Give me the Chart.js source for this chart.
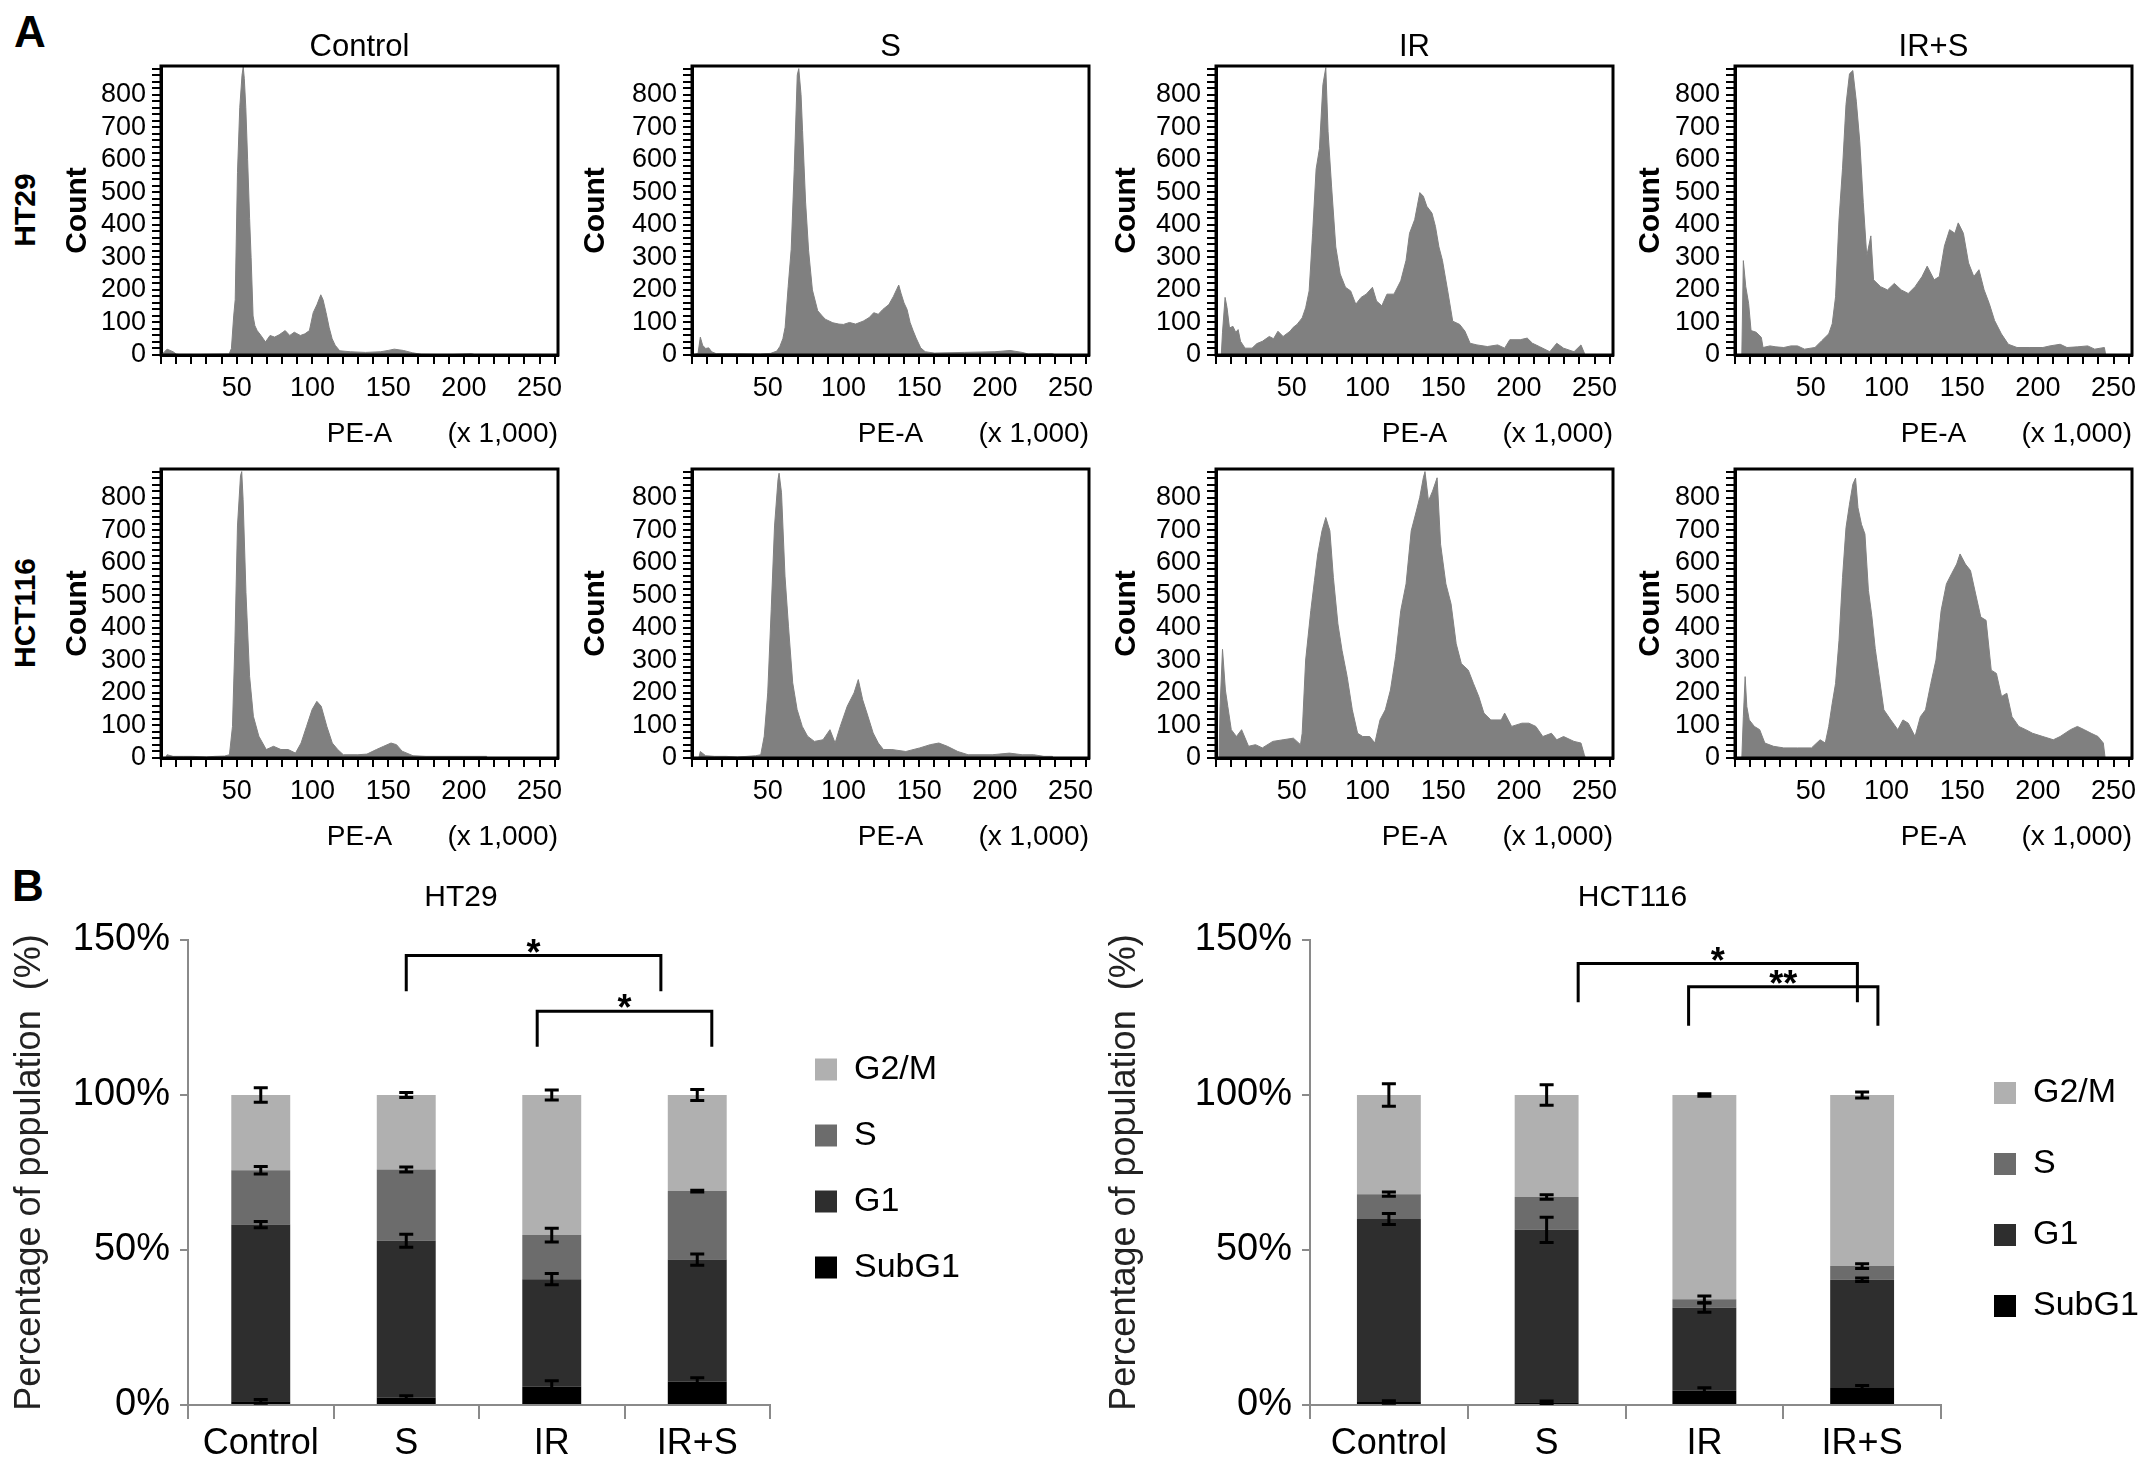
<!DOCTYPE html>
<html><head><meta charset="utf-8">
<script src="https://cdn.jsdelivr.net/npm/chart.js@4.4.1/dist/chart.umd.min.js"></script>
<style>
html,body{margin:0;padding:0;background:#fff;}
#fig{position:relative;width:2150px;height:1465px;overflow:hidden;background:#fff;}
canvas{position:absolute;}
.lbl{position:absolute;font-family:'Liberation Sans',Arial,sans-serif;color:#000;white-space:nowrap;line-height:1;}
.rot{transform:translate(-50%,-50%) rotate(-90deg);font-weight:bold;font-size:30px;}
</style></head><body><div id="fig">
<div class="lbl" style="left:14px;top:10px;font-size:44px;font-weight:bold;">A</div>
<div class="lbl" style="left:12px;top:864px;font-size:44px;font-weight:bold;">B</div>
<div class="lbl rot" style="left:25px;top:210px;">HT29</div>
<div class="lbl rot" style="left:25px;top:613px;">HCT116</div>
</div>
<script>
// ---------------- DATA ----------------
const TREATMENTS = ['Control', 'S', 'IR', 'IR+S'];
const PHASES = ['SubG1', 'G1', 'S', 'G2/M'];
const HIST_X_LABELS = [50, 100, 150, 200, 250];
const HIST_Y_LABELS = [0, 100, 200, 300, 400, 500, 600, 700, 800];
const PCT_TICKS = [0, 50, 100, 150];

// Histograms: [PE-A (x1,000), count]
const HT29_CONTROL = [[0,0],[2,8],[4,18],[6,14],[8,10],[10,3],[14,0],[30,2],[45,3],[46.5,20],[48,120],[49,170],[50.5,560],[52,760],[53.5,860],[54.3,885],[55,850],[56,760],[57.2,600],[58.5,420],[59.5,300],[60.8,120],[62,90],[63.5,75],[66,60],[69,40],[72,60],[75,55],[78,62],[82,75],[85,60],[88,70],[92,60],[95,65],[98,75],[100.5,130],[103,155],[105.5,185],[107,170],[109,130],[111,85],[113,50],[115,30],[118,13],[125,10],[135,8],[145,10],[150,14],[154,18],[160,14],[166,7],[172,2],[190,1],[205,4],[208,0],[262,0]];
const HT29_S = [[0,0],[4,5],[5.5,55],[7,30],[9,20],[11,22],[13,10],[16,4],[30,4],[45,3],[52,5],[56,12],[58,26],[60,50],[61.5,85],[63.5,210],[65.5,325],[67.5,570],[69.5,860],[70.5,880],[72,800],[73,690],[75,470],[77,320],[79.5,200],[83,136],[86,120],[88,110],[93,99],[97,95],[100,94],[104,100],[108,95],[113,104],[117,115],[120,130],[123,125],[126,140],[130,155],[133,180],[135,200],[136.5,215],[138,190],[140,160],[142,140],[144,100],[146,75],[148,52],[151,22],[154,10],[160,6],[180,8],[200,10],[210,14],[218,8],[222,3],[238,4],[240,0],[262,0]];
const HT29_IR = [[0,0],[3.5,0],[4.3,70],[6,177],[7.3,145],[8.9,83],[11.2,88],[13,70],[14.6,78],[16.2,42],[19.2,21],[23.8,21],[27,35],[30.6,42],[35.2,57],[38,50],[40.9,73],[44.3,57],[48.9,73],[51,85],[53.5,94],[56.9,114],[59.2,145],[61.5,197],[63.8,374],[66.1,571],[68.3,634],[70.6,831],[72.5,883],[74,686],[76.3,519],[79.1,332],[82,249],[85.5,208],[88.9,197],[92.3,156],[95.8,177],[99.2,187],[103.3,208],[106,166],[109.5,151],[112.9,187],[117.5,187],[122,228],[125.5,291],[127.8,374],[131.2,416],[134.6,499],[136.9,488],[139.2,457],[142.6,436],[144.9,395],[147.2,332],[149.5,291],[153,197],[156.3,104],[160.9,94],[164.4,73],[167.8,36],[172.3,31],[179.2,26],[186,31],[190.6,21],[194,47],[200.9,47],[205.5,52],[209,36],[213.5,26],[220.4,10],[225,36],[229.5,21],[236.4,10],[241,31],[243.3,5],[244,0],[262,0]];
const HT29_IRS = [[0,0],[4.5,0],[5.5,290],[7.1,210],[9,158],[10.6,75],[14,70],[17.4,54],[18.5,23],[23.1,28],[27,25],[32.2,23],[37,28],[41.3,28],[45.9,18],[52.8,23],[57.3,44],[61.9,65],[64.2,96],[66.4,179],[68.7,418],[71,574],[73.3,770],[75.6,864],[77.8,874],[80.1,780],[82.4,655],[84.7,468],[87,304],[89.7,366],[91.5,231],[96.1,210],[100.7,200],[105.2,220],[109.8,200],[114.4,189],[118.9,210],[123.5,241],[126.9,273],[131.5,231],[134.9,241],[138.3,335],[141.7,385],[145.2,374],[147.4,406],[150.8,374],[154.2,283],[157.7,241],[161.1,262],[164.5,200],[167.9,158],[171.4,106],[175.9,65],[180.5,33],[186.2,23],[194.2,23],[203.3,23],[208,28],[214.7,33],[219.2,23],[226,25],[232.9,28],[237.5,18],[243.9,23],[244.8,0],[262,0]];
const HCT116_CONTROL = [[0,0],[3,0],[4,10],[8,5],[15,5],[21,5],[30,3],[35.5,5],[42,6],[45.2,10],[47.2,97],[48.8,354],[50.5,713],[52.5,867],[53.3,880],[54.2,795],[56.1,508],[58.5,251],[61,128],[64.6,67],[69.5,26],[74.3,36],[79.2,26],[84,26],[88.8,15],[92.5,46],[96.1,97],[99.8,149],[102.9,174],[105.8,159],[109.5,97],[113.1,46],[116.7,26],[120.4,10],[130,10],[136,12],[142.2,26],[147,36],[151.9,46],[155.5,41],[159.2,21],[166.4,7],[175,5],[188.2,5],[200,5],[214.9,5],[216,0],[262,0]];
const HCT116_S = [[0,0],[4.5,0],[5.5,20],[9,7],[15,5],[22.6,5],[30,3],[36.3,5],[42,7],[45.4,10],[47.7,67],[50,200],[52.3,456],[54.5,713],[56.8,856],[57.5,875],[59.1,815],[61.4,559],[63.7,405],[66.5,231],[69.4,149],[72.8,97],[76.3,67],[80.8,51],[86.5,56],[91.1,87],[94.5,46],[97.9,97],[102.5,159],[107,200],[109.8,241],[112.7,179],[116.2,128],[119.6,77],[123,46],[126.4,26],[132,26],[141.2,20],[150.4,31],[157.3,41],[163,46],[168.6,36],[175.5,20],[182.3,10],[198.2,10],[209.6,15],[218,10],[225.6,10],[232.4,5],[238,5],[239,0],[262,0]];
const HCT116_IR = [[0,0],[2,0],[2.7,158],[4.3,334],[6.2,209],[7.8,158],[10.1,87],[13.5,66],[16.9,87],[21.5,36],[26.1,41],[30.6,31],[37.5,51],[44.3,56],[51.1,61],[55.8,41],[56.9,76],[59.2,301],[62.6,453],[65,545],[67.2,627],[70,698],[72.5,739],[75.2,698],[77.5,555],[80.5,412],[83.2,331],[86.6,250],[90,148],[93.5,76],[96.9,66],[101.5,66],[104.9,46],[108.3,117],[111.8,148],[115.2,209],[118.6,311],[122,453],[125.5,535],[128.9,698],[132.3,759],[134.5,800],[136.9,861],[138,880],[140.3,790],[143,820],[146,861],[148.3,657],[151.8,535],[155.2,474],[158.6,351],[162,290],[166.6,270],[170,229],[173.5,189],[176.9,138],[181.5,117],[188.3,117],[190.6,138],[195.2,97],[202,107],[206.6,107],[211.2,97],[215.8,66],[221.5,76],[225,56],[229.5,66],[236.4,51],[241,46],[243.2,10],[244,0],[262,0]];
const HCT116_IRS = [[0,0],[4.5,0],[5.5,127],[6.7,250],[7.8,158],[9.4,117],[12.8,97],[16.3,87],[19.7,46],[25.4,36],[32.2,31],[41.3,31],[50.5,31],[56.2,56],[59.6,46],[61.9,97],[64.2,168],[66.4,229],[68.7,362],[71,555],[73.3,708],[75.6,780],[77.8,841],[79.6,860],[81.2,769],[83.5,718],[85.8,688],[88.1,515],[90.3,438],[92.6,336],[94.9,260],[98.3,148],[102.9,117],[107.5,87],[110.9,117],[114.4,107],[118.9,66],[122.4,127],[125.8,148],[129.3,229],[132.7,301],[136.1,453],[139.6,535],[143,566],[146.4,596],[148.6,627],[152.1,596],[155.5,576],[158.9,504],[162.3,433],[165.8,423],[169.2,270],[172.6,260],[176,189],[179.5,199],[182.9,127],[187.4,97],[192,87],[196.5,76],[203.3,66],[210.2,56],[214.7,66],[221.5,87],[226.1,97],[230.6,87],[235.2,76],[239.7,66],[243.2,46],[244.4,0],[262,0]];

// Cell-cycle distribution (%), per treatment
const HT29_SUBG1 = [1.2, 2.4, 6.0, 7.6];
const HT29_G1    = [57.0, 50.6, 34.6, 39.3];
const HT29_SPH   = [17.5, 23.0, 14.2, 22.1];
const HT29_G2M   = [24.3, 24.0, 45.2, 31.0];
const HT29_SUBG1_ERR = [0.6, 0.6, 1.8, 1.2];
const HT29_G1_ERR    = [1.0, 2.1, 1.8, 1.8];
const HT29_SPH_ERR   = [1.2, 0.8, 2.2, 0.3];
const HT29_G2M_ERR   = [2.3, 0.8, 1.6, 1.8];

const HCT116_SUBG1 = [1.0, 0.9, 4.6, 5.5];
const HCT116_G1    = [59.0, 55.6, 26.8, 34.9];
const HCT116_SPH   = [8.0, 10.6, 2.7, 4.4];
const HCT116_G2M   = [32.0, 32.9, 65.9, 55.2];
const HCT116_SUBG1_ERR = [0.4, 0.4, 1.0, 0.8];
const HCT116_G1_ERR    = [1.8, 4.1, 1.5, 0.6];
const HCT116_SPH_ERR   = [0.7, 0.7, 1.1, 0.8];
const HCT116_G2M_ERR   = [3.6, 3.3, 0.4, 1.0];

// significance brackets: category positions, bracket level (%), foot level (%)
const HT29_SIG_FROM = [1.0, 1.9];
const HT29_SIG_TO   = [2.75, 3.1];
const HT29_SIG_LEVEL = [145, 127];
const HT29_SIG_FOOT  = [133.5, 115.6];
const HT29_SIG_MARK  = ['*', '*'];
const HCT116_SIG_FROM = [1.2, 1.9];
const HCT116_SIG_TO   = [2.97, 3.1];
const HCT116_SIG_LEVEL = [142.4, 134.9];
const HCT116_SIG_FOOT  = [129.9, 122.3];
const HCT116_SIG_MARK  = ['*', '**'];

// ---------------- STYLE ----------------
const FONT = "'Liberation Sans',Arial,sans-serif";
const HIST_GRAY = '#808080';
const PHASE_COLORS = ['#000000', '#2e2e2e', '#6c6c6c', '#b0b0b0'];
const AXIS_GRAY = '#8a8a8a';

// ---------------- PLUGINS ----------------
const framePlugin = {
  id: 'frame',
  afterDraw(chart) {
    const {ctx, chartArea: a} = chart;
    ctx.save(); ctx.strokeStyle = '#000'; ctx.lineWidth = 3;
    ctx.strokeRect(a.left, a.top, a.right - a.left, a.bottom - a.top);
    ctx.restore();
  }
};
const textPlugin = {
  id: 'panelText',
  afterDraw(chart, args, opts) {
    const {ctx, chartArea: a} = chart;
    (opts.items || []).forEach(it => {
      if (!it.text) return;
      ctx.save();
      ctx.font = it.font; ctx.fillStyle = '#000';
      ctx.textAlign = it.align; ctx.textBaseline = 'middle';
      const x = (it.align === 'center' ? (a.left + a.right) / 2 : it.align === 'right' ? a.right : a.left) + (it.dx || 0);
      const y = (it.ref === 'top' ? a.top : a.bottom) + it.dy;
      ctx.fillText(it.text, x, y);
      ctx.restore();
    });
  }
};
const errorBarPlugin = {
  id: 'errorBars',
  afterDatasetsDraw(chart) {
    const {ctx} = chart;
    const ys = chart.scales.y;
    const n = chart.data.labels.length;
    ctx.save(); ctx.strokeStyle = '#000'; ctx.lineWidth = 3;
    for (let i = 0; i < n; i++) {
      let cum = 0;
      chart.data.datasets.forEach((ds, d) => {
        cum += ds.data[i];
        const e = ds.errors[i];
        const x = chart.getDatasetMeta(d).data[i].x;
        const y1 = ys.getPixelForValue(cum + e), y2 = ys.getPixelForValue(cum - e);
        ctx.beginPath();
        ctx.moveTo(x, y1); ctx.lineTo(x, y2);
        ctx.moveTo(x - 7, y1); ctx.lineTo(x + 7, y1);
        ctx.moveTo(x - 7, y2); ctx.lineTo(x + 7, y2);
        ctx.stroke();
      });
    }
    ctx.restore();
  }
};
const bracketPlugin = {
  id: 'brackets',
  afterDraw(chart, args, opts) {
    if (!opts.from) return;
    const {ctx} = chart; const xs = chart.scales.x, ys = chart.scales.y;
    ctx.save(); ctx.strokeStyle = '#000'; ctx.fillStyle = '#000'; ctx.lineWidth = 3;
    ctx.font = 'bold 36px ' + FONT; ctx.textAlign = 'center'; ctx.textBaseline = 'alphabetic';
    opts.from.forEach((f, k) => {
      const xa = xs.getPixelForValue(f), xb = xs.getPixelForValue(opts.to[k]);
      const yl = ys.getPixelForValue(opts.level[k]), yf = ys.getPixelForValue(opts.foot[k]);
      ctx.beginPath();
      ctx.moveTo(xa, yf); ctx.lineTo(xa, yl); ctx.lineTo(xb, yl); ctx.lineTo(xb, yf);
      ctx.stroke();
      ctx.fillText(opts.mark[k], (xa + xb) / 2, yl + 9);
    });
    ctx.restore();
  }
};
const legendPlacePlugin = {
  id: 'legendPlace',
  afterLayout(chart, args, opts) {
    const L = chart.legend;
    if (!L || opts.dx === undefined) return;
    const h = L.bottom - L.top;
    L.left = chart.chartArea.right + opts.dx; L.right = L.left + opts.w; L.width = opts.w;
    L.top = L.top + opts.dy; L.bottom = L.top + h;
  }
};

// ---------------- BUILDERS ----------------
const fig = document.getElementById('fig');
function makeCanvas(left, top, w, h) {
  const c = document.createElement('canvas');
  c.width = w; c.height = h;
  c.style.left = left + 'px'; c.style.top = top + 'px';
  c.style.width = w + 'px'; c.style.height = h + 'px';
  fig.appendChild(c);
  return c;
}

function histogram(plotLeft, plotTop, title, points, countOffset) {
  const W = 397, H = 289, L = 120, T = 62, R = 14, B = 105;
  const c = makeCanvas(plotLeft - L, plotTop - T, L + W + R, T + H + B);
  const xTicks = []; for (let v = 0; v <= 260; v += 10) xTicks.push(v);
  const yTicks = []; for (let v = 0; v <= 880; v += 20) yTicks.push(v);
  new Chart(c, {
    type: 'line',
    data: {datasets: [{
      data: points.map(p => ({x: p[0], y: p[1]})),
      fill: 'origin', backgroundColor: HIST_GRAY, borderColor: HIST_GRAY,
      borderWidth: 1, pointRadius: 0, tension: 0
    }]},
    options: {
      responsive: false, animation: false, devicePixelRatio: 1,
      layout: {padding: {top: T, right: R, left: 0, bottom: 0}},
      plugins: {
        legend: {display: false}, tooltip: {enabled: false},
        panelText: {items: [
          {text: title, font: '31px ' + FONT, align: 'center', ref: 'top', dy: -19},
          {text: '(x 1,000)', font: '28px ' + FONT, align: 'right', ref: 'bottom', dy: 79}
        ]}
      },
      scales: {
        x: {
          type: 'linear', min: 0, max: 262.144,
          afterBuildTicks: s => { s.ticks = xTicks.map(v => ({value: v})); },
          afterFit: s => { s.height = B; },
          ticks: {autoSkip: false, maxRotation: 0, padding: 8, color: '#000',
                  font: {family: FONT, size: 27},
                  callback: v => HIST_X_LABELS.includes(v) ? String(v) : ''},
          grid: {drawOnChartArea: false, drawTicks: true, tickLength: 9, color: '#000', lineWidth: 2},
          border: {display: true, color: '#000', width: 3},
          title: {display: true, text: 'PE-A', color: '#000', font: {family: FONT, size: 28},
                  padding: {top: 0, bottom: 9}}
        },
        y: {
          type: 'linear', min: 0, max: 888,
          afterBuildTicks: s => { s.ticks = yTicks.map(v => ({value: v})); },
          afterFit: s => { s.width = L; },
          ticks: {autoSkip: false, padding: 6, color: '#000',
                  font: {family: FONT, size: 27},
                  callback: v => HIST_Y_LABELS.includes(v) ? String(v) : ''},
          grid: {drawOnChartArea: false, drawTicks: true, tickLength: 9, color: '#000', lineWidth: 2},
          border: {display: true, color: '#000', width: 3},
          title: {display: true, text: 'Count', color: '#000',
                  font: {family: FONT, size: 30, weight: 'bold'},
                  padding: {top: L - countOffset - 18, bottom: 0}}
        }
      }
    },
    plugins: [framePlugin, textPlugin]
  });
}

function stacked(cfg) {
  const c = makeCanvas(cfg.left, cfg.top, cfg.w, cfg.h);
  const values = [cfg.subg1, cfg.g1, cfg.sph, cfg.g2m];
  const errs = [cfg.subg1Err, cfg.g1Err, cfg.sphErr, cfg.g2mErr];
  new Chart(c, {
    type: 'bar',
    data: {
      labels: TREATMENTS,
      datasets: PHASES.map((p, i) => ({
        label: p, data: values[i], errors: errs[i],
        backgroundColor: PHASE_COLORS[i], borderWidth: 0,
        barPercentage: 0.405, categoryPercentage: 1.0
      }))
    },
    options: {
      responsive: false, animation: false, devicePixelRatio: 1,
      layout: {padding: {top: 72, right: cfg.padRight, left: 0, bottom: 0}},
      plugins: {
        tooltip: {enabled: false},
        legend: {
          display: true, position: 'right', reverse: true, align: 'center', maxWidth: 60,
          labels: {boxWidth: 22, boxHeight: 22, padding: cfg.legendPad, color: '#000',
                   font: {family: FONT, size: 34}}
        },
        legendPlace: {dx: cfg.legendDx, dy: cfg.legendDy, w: 220},
        panelText: {items: [{text: cfg.title, font: '30px ' + FONT, align: 'center', ref: 'top', dy: -42, dx: cfg.titleDx}]},
        brackets: cfg.sig
      },
      scales: {
        x: {
          stacked: true,
          afterFit: s => { s.height = 60; },
          ticks: {color: '#000', padding: 3, font: {family: FONT, size: 36}},
          grid: {offset: true, drawOnChartArea: false, drawTicks: true, tickLength: 14, color: AXIS_GRAY, lineWidth: 2},
          border: {display: true, color: AXIS_GRAY, width: 2}
        },
        y: {
          stacked: true, min: 0, max: 150,
          afterBuildTicks: s => { s.ticks = PCT_TICKS.map(v => ({value: v})); },
          afterFit: s => { s.width = cfg.yWidth; },
          ticks: {color: '#000', padding: 10, font: {family: FONT, size: 38}, callback: v => v + '%'},
          grid: {drawOnChartArea: false, drawTicks: true, tickLength: 8, color: AXIS_GRAY, lineWidth: 2},
          border: {display: true, color: AXIS_GRAY, width: 2},
          title: {display: true, text: 'Percentage of population  (%)', color: '#222',
                  font: {family: FONT, size: 36}, padding: {top: 8, bottom: 0}}
        }
      }
    },
    plugins: [errorBarPlugin, bracketPlugin, textPlugin, legendPlacePlugin]
  });
}

// ---------------- PANEL A ----------------
const COLS = [161, 692, 1216, 1735];
const COUNT_OFFSETS = [83, 96, 89, 84];
const ROWS = [66, 469];
histogram(COLS[0], ROWS[0], TREATMENTS[0], HT29_CONTROL, COUNT_OFFSETS[0]);
histogram(COLS[1], ROWS[0], TREATMENTS[1], HT29_S, COUNT_OFFSETS[1]);
histogram(COLS[2], ROWS[0], TREATMENTS[2], HT29_IR, COUNT_OFFSETS[2]);
histogram(COLS[3], ROWS[0], TREATMENTS[3], HT29_IRS, COUNT_OFFSETS[3]);
histogram(COLS[0], ROWS[1], '', HCT116_CONTROL, COUNT_OFFSETS[0]);
histogram(COLS[1], ROWS[1], '', HCT116_S, COUNT_OFFSETS[1]);
histogram(COLS[2], ROWS[1], '', HCT116_IR, COUNT_OFFSETS[2]);
histogram(COLS[3], ROWS[1], '', HCT116_IRS, COUNT_OFFSETS[3]);

// ---------------- PANEL B ----------------
stacked({left: 0, top: 868, w: 1080, h: 597, yWidth: 188, padRight: 250,
  legendPad: 32, legendDx: 13, legendDy: -34, title: 'HT29', titleDx: -18,
  subg1: HT29_SUBG1, g1: HT29_G1, sph: HT29_SPH, g2m: HT29_G2M,
  subg1Err: HT29_SUBG1_ERR, g1Err: HT29_G1_ERR, sphErr: HT29_SPH_ERR, g2mErr: HT29_G2M_ERR,
  sig: {from: HT29_SIG_FROM, to: HT29_SIG_TO, level: HT29_SIG_LEVEL, foot: HT29_SIG_FOOT, mark: HT29_SIG_MARK}});
stacked({left: 1095, top: 868, w: 1055, h: 597, yWidth: 215, padRight: 149,
  legendPad: 37, legendDx: 16, legendDy: -3, title: 'HCT116', titleDx: 7,
  subg1: HCT116_SUBG1, g1: HCT116_G1, sph: HCT116_SPH, g2m: HCT116_G2M,
  subg1Err: HCT116_SUBG1_ERR, g1Err: HCT116_G1_ERR, sphErr: HCT116_SPH_ERR, g2mErr: HCT116_G2M_ERR,
  sig: {from: HCT116_SIG_FROM, to: HCT116_SIG_TO, level: HCT116_SIG_LEVEL, foot: HCT116_SIG_FOOT, mark: HCT116_SIG_MARK}});
</script>
</body></html>
